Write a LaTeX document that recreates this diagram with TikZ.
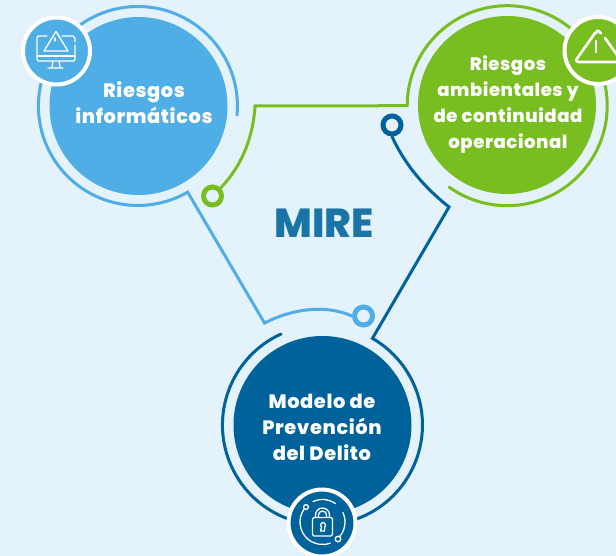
\documentclass[tikz,border=0pt]{standalone}
\usepackage{fontspec}
\setmainfont{Poppins}[LetterSpace=3,BoldFont={Poppins ExtraBold}]
\newfontfamily\logofont{Poppins ExtraBold}
\definecolor{bgc}{HTML}{E3F2FB}
\definecolor{bluec}{HTML}{4FAEE5}
\definecolor{greenc}{HTML}{78BE20}
\definecolor{darkc}{HTML}{00629B}
\definecolor{logoc}{HTML}{1A75A6}
\tikzset{
  disc/.style={circle,minimum size=178pt,inner sep=0pt,fill=#1},
  badge/.style={circle,minimum size=67pt,inner sep=0pt,fill=#1,draw=white,line width=4pt},
  wire/.style={draw=#1,line width=3pt,line cap=round,line join=miter},
  port/.style={circle,minimum size=18pt,inner sep=0pt,draw=#1,line width=5pt,fill=bgc},
  label/.style={text=white,font=\bfseries\fontsize{#1}{26}\selectfont,align=center,inner sep=0pt},
  glyph/.style={draw=white,line cap=round,line join=round,line width=#1},
  glyph/.default=1.3pt
}
\begin{document}
\begin{tikzpicture}[x=1pt,y=-1pt]
\useasboundingbox (0,0) rectangle (616,556);
\fill[bgc] (0,0) rectangle (616,556);
% ports
\node[port=greenc] (pg) at (212.5,196) {};
\node[port=darkc] (pd) at (392,125) {};
\node[port=bluec] (pb) at (363.5,316) {};
% corner points
\coordinate (cb1) at (188,192);
\coordinate (cb2) at (264.5,323);
\coordinate (cg1) at (406.5,106);
\coordinate (cg2) at (255,106);
\coordinate (cd1) at (372,339);
\coordinate (cd2) at (449,207);
% rings with connectors
\draw[wire=bluec] (237,115) arc[start angle=5.2,end angle=-300,radius=99.5] -- (cb2) .. controls (292,309) and (325,304) .. (pb.west);
\draw[wire=greenc] (449,187) arc[start angle=125.6,end angle=-180,radius=100] -- (cg2) .. controls (253,140) and (240,168) .. (pg.north east);
\draw[wire=darkc] (281,334) arc[start angle=245.5,end angle=-60,radius=100] -- (cd2) .. controls (425,188) and (405,165) .. (pd.south);
% discs
\node[disc=bluec] (db) at (138.5,106) {};
\node[disc=greenc] (dg) at (507,105) {};
\node[disc=darkc] (dd) at (322.5,425) {};
% labels
\node[label=19.4] (lb) at (144,103) {Riesgos\\informáticos};
\node[label=18.1] (lg) at (508,104.5) {Riesgos\\ambientales y\\de continuidad\\operacional};
\node[label=19.4] (ld) at (322,427) {Modelo de\\Prevención\\del Delito};
\node[text=logoc,inner sep=0pt,font=\logofont\fontsize{40.5}{40.5}\selectfont] (mire) at (324,223) {MIRE};
% badges
\node[badge=bluec] (bb) at (56.5,51) {};
\node[badge=greenc] (bg) at (598,50.5) {};
\node[badge=darkc] (bd) at (322,523) {};
% monitor icon
\draw[glyph] (47,36) -- (39,36) to[out=180,in=90] (37,38) -- (37,59) to[out=270,in=180] (39,61) -- (73,61) to[out=0,in=-90] (75,59) -- (75,45);
\draw[glyph] (75,42) -- (75,38) to[out=-90,in=0] (73,36) -- (62,36);
\draw[glyph] (37,56) -- (75,56);
\draw[glyph] (56,31.5) -- (68,51) -- (44,51) -- cycle;
\draw[glyph] (55,38) -- (55,41);
\draw[glyph] (53,61) -- (52,67) (59,61) -- (60,67) (48,68) -- (63,68);
% warning icon
\draw[glyph=2.6pt] (601,33) to[out=-130,in=0] (598,30.5) to[out=180,in=-60] (595,33) -- (576,60) to[out=120,in=180] (578,62) -- (620,62);
\draw[glyph=2.6pt] (605,38) -- (622,62);
\draw[glyph=2.6pt] (596,41) -- (596,52);
% lock icon
\draw[glyph] (322.5,522) ++(218:22.5) arc[start angle=218,end angle=70,radius=22.5];
\draw[glyph] (322.5,522) ++(48:22.5) arc[start angle=48,end angle=-25,radius=22.5];
\draw[glyph] (322.5,522) ++(-115:22.5) arc[start angle=-115,end angle=-55,radius=22.5];
\draw[glyph,fill=darkc] (306,507) circle[radius=2.4];
\draw[glyph,fill=darkc] (338,539) circle[radius=2.8];
\draw[glyph,rounded corners=1.5pt] (312.5,517.5) rectangle (332.5,536);
\draw[glyph] (315.5,517) -- (315.5,515) arc[start angle=180,end angle=360,radius=7] -- (329.5,517);
\draw[glyph] (318.5,517) -- (318.5,515) arc[start angle=180,end angle=360,radius=4] -- (326.5,517);
\draw[glyph] (320.5,531) -- (321.5,527) arc[start angle=130,end angle=410,radius=2.5] -- (324.5,531) -- cycle;
\end{tikzpicture}
\end{document}
